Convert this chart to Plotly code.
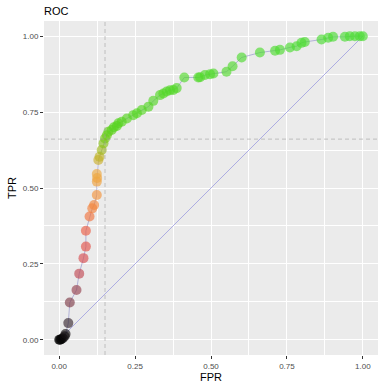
import plotly.graph_objects as go

fpr = [0.0, 0.003, 0.007, 0.012, 0.018, 0.021, 0.030, 0.035, 0.057, 0.066, 0.080, 0.088, 0.088,
       0.100, 0.109, 0.115, 0.124, 0.124, 0.125, 0.124, 0.129, 0.133, 0.140, 0.146, 0.151, 0.157,
       0.162, 0.173, 0.180, 0.190, 0.195, 0.206, 0.223, 0.244, 0.256, 0.272, 0.294, 0.310, 0.332,
       0.343, 0.354, 0.365, 0.376, 0.387, 0.412, 0.458, 0.464, 0.480, 0.497, 0.508, 0.551, 0.571,
       0.601, 0.661, 0.711, 0.727, 0.760, 0.782, 0.798, 0.809, 0.864, 0.886, 0.902, 0.941, 0.957,
       0.974, 0.990, 1.0]
tpr = [0.0, 0.0, 0.002, 0.005, 0.012, 0.019, 0.055, 0.123, 0.164, 0.218, 0.269, 0.307, 0.359,
       0.406, 0.433, 0.444, 0.477, 0.521, 0.533, 0.546, 0.592, 0.603, 0.625, 0.647, 0.663, 0.674,
       0.685, 0.691, 0.700, 0.704, 0.713, 0.718, 0.729, 0.740, 0.746, 0.757, 0.768, 0.787, 0.806,
       0.811, 0.818, 0.822, 0.823, 0.829, 0.864, 0.864, 0.865, 0.872, 0.875, 0.877, 0.883, 0.901,
       0.930, 0.946, 0.952, 0.955, 0.963, 0.967, 0.978, 0.981, 0.989, 0.995, 0.998, 0.998, 1.0,
       1.0, 1.0, 1.0]

diag = [0, 1]
cut_fpr = 0.151
cut_tpr = 0.661
ticks = [0, 0.25, 0.5, 0.75, 1.0]

cscale = [
    [0.0, "#000000"], [0.06, "#3e2e36"], [0.12, "#7e3e4a"], [0.17, "#9a4452"],
    [0.22, "#c44a55"], [0.28, "#dc5050"], [0.33, "#ea5848"], [0.38, "#ee6444"],
    [0.42, "#f27c40"], [0.46, "#f28e3c"], [0.50, "#f29c3c"], [0.55, "#eeaa40"],
    [0.59, "#d0b030"], [0.62, "#a8b820"], [0.66, "#78c818"], [0.70, "#58d420"],
    [1.0, "#4cdc34"],
]

fig = go.Figure()
fig.add_trace(go.Scatter(x=diag, y=diag, mode="lines",
                         line=dict(color="#9c9ce0", width=0.8), hoverinfo="skip"))
fig.add_trace(go.Scatter(x=fpr, y=tpr, mode="lines",
                         line=dict(color="#8a8ac8", width=0.6), hoverinfo="skip"))
fig.add_trace(go.Scatter(x=fpr, y=tpr, mode="markers",
                         marker=dict(size=10, color=tpr, colorscale=cscale, cmin=0, cmax=1,
                                     opacity=0.65, line=dict(width=0), showscale=False)))
fig.add_vline(x=cut_fpr, line=dict(color="#a0a0a0", width=0.6, dash="4px,3px"))
fig.add_hline(y=cut_tpr, line=dict(color="#a0a0a0", width=0.6, dash="4px,3px"))

axis_common = dict(
    tickvals=ticks, tickformat=".2f", range=[-0.05, 1.05], automargin=False,
    showgrid=True, gridcolor="white", gridwidth=1.1, zeroline=False,
    ticks="outside", ticklen=3, tickcolor="#333333", tickwidth=0.8,
    tickfont=dict(size=8, color="#4d4d4d"), showline=False,
    minor=dict(tickvals=[0.125, 0.375, 0.625, 0.875], showgrid=True,
               gridcolor="white", gridwidth=0.5, ticks=""),
)

W, H = 388, 387
fig.update_layout(
    width=W, height=H,
    margin=dict(l=44, r=10, t=21, b=32),
    plot_bgcolor="#EBEBEB", paper_bgcolor="white",
    showlegend=False,
    font=dict(family="Liberation Sans, Arial, sans-serif"),
    title=dict(text="ROC", x=44/W, xanchor="left", y=1 - 11/H, yanchor="middle",
               font=dict(size=11, color="black")),
    xaxis=dict(title=dict(text="FPR", font=dict(size=11, color="black"), standoff=3), **axis_common),
    yaxis=dict(title=dict(text="TPR", font=dict(size=11, color="black"), standoff=3), **axis_common),
)

# remove the browser's default 8px body margin so the figure fills the window
fig.write_html("out.html", config={"displayModeBar": False},
               post_script="document.body.style.margin='0px';")
